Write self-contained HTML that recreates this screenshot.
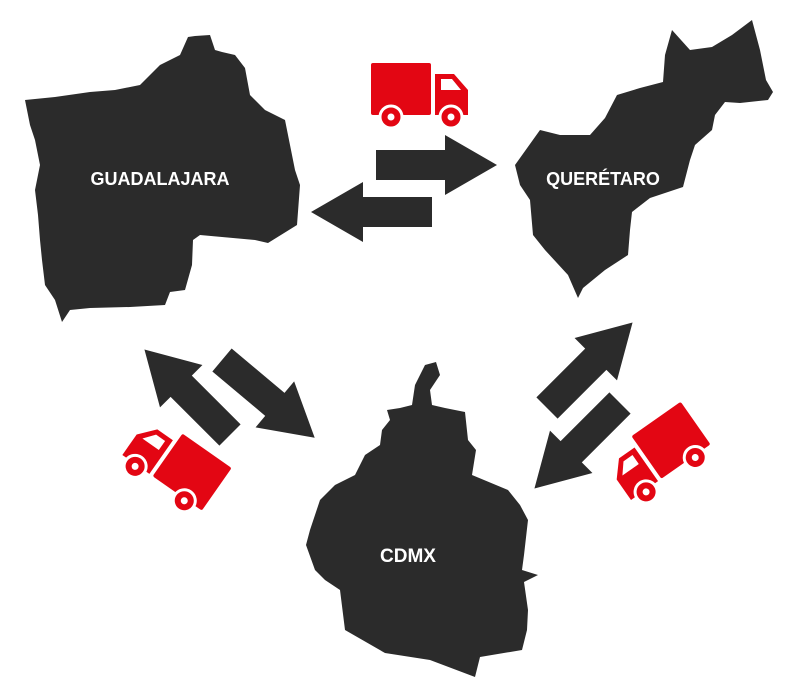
<!DOCTYPE html>
<html><head><meta charset="utf-8"><style>
html,body{margin:0;padding:0;background:#fff;}
svg{display:block}
text{font-family:"Liberation Sans",sans-serif;font-weight:bold;fill:#fff;}
</style></head><body>
<svg width="800" height="700" viewBox="0 0 800 700" xmlns="http://www.w3.org/2000/svg">
<defs>
<path id="arr" d="M0,-15 H69 V-30 L121,0 L69,30 V15 H0 Z" fill="#2b2b2b"/>
<g id="truck">
<rect x="-49" y="-27" width="60" height="52" rx="2" fill="#e30613"/>
<path d="M15,-16 H34 L48,0 V25 H15 Z" fill="#e30613"/>
<path d="M21,-11 H32 L41,0 H21 Z" fill="#fff"/>
<circle cx="-29" cy="27" r="11" fill="#e30613" stroke="#fff" stroke-width="3"/>
<circle cx="-29" cy="27" r="3.5" fill="#fff"/>
<circle cx="31" cy="27" r="11" fill="#e30613" stroke="#fff" stroke-width="3"/>
<circle cx="31" cy="27" r="3.5" fill="#fff"/>
</g>
</defs>
<path fill="#2b2b2b" d="M25,100 L55,97 L90,92 L115,90 L140,85 L150,75 L160,65 L180,55 L188,37 L195,36 L210,35 L215,50 L222,52 L235,55 L245,68 L250,95 L265,110 L285,120 L290,145 L295,170 L300,185 L297,225 L268,243 L255,240 L200,235 L193,240 L192,265 L185,290 L170,292 L165,305 L130,307 L90,308 L70,310 L62,322 L55,300 L45,285 L42,260 L40,240 L38,215 L35,190 L40,165 L35,140 L30,125 Z"/>
<text x="160" y="185" font-size="18" text-anchor="middle">GUADALAJARA</text>
<path fill="#2b2b2b" d="M515,165 L540,130 L560,135 L590,135 L605,118 L617,95 L640,88 L663,82 L665,55 L672,30 L690,50 L712,47 L732,35 L752,20 L760,50 L766,80 L773,92 L768,100 L740,103 L725,102 L715,115 L712,130 L695,145 L690,160 L683,187 L650,198 L632,212 L630,230 L628,255 L605,270 L583,288 L578,298 L568,275 L545,250 L533,235 L530,200 L520,185 Z"/>
<text x="603" y="185" font-size="18" text-anchor="middle">QUERÉTARO</text>
<path fill="#2b2b2b" d="M387,410 L400,408 L412,405 L415,385 L425,365 L436,362 L440,375 L430,390 L432,405 L445,408 L465,412 L468,440 L476,450 L472,475 L508,490 L520,505 L528,520 L524,555 L522,570 L538,575 L524,582 L528,610 L527,630 L522,650 L480,657 L475,677 L430,660 L385,653 L345,630 L340,590 L325,580 L315,570 L306,545 L310,530 L320,500 L335,485 L355,475 L365,455 L380,445 L382,430 L390,420 Z"/>
<text x="408" y="562" font-size="19" text-anchor="middle">CDMX</text>
<use href="#arr" transform="translate(376,165)"/>
<use href="#arr" transform="translate(432,212) rotate(180)"/>
<use href="#arr" transform="translate(230,435) rotate(-135)"/>
<use href="#arr" transform="translate(222,360) rotate(40)"/>
<use href="#arr" transform="translate(547,408) rotate(-45)"/>
<use href="#arr" transform="translate(620,403) rotate(135)"/>
<use href="#truck" transform="translate(420,90)"/>
<use href="#truck" transform="translate(176,462) rotate(35) scale(-1,1)"/>
<use href="#truck" transform="translate(656,452) rotate(-35) scale(-1,1)"/>
</svg>
</body></html>
